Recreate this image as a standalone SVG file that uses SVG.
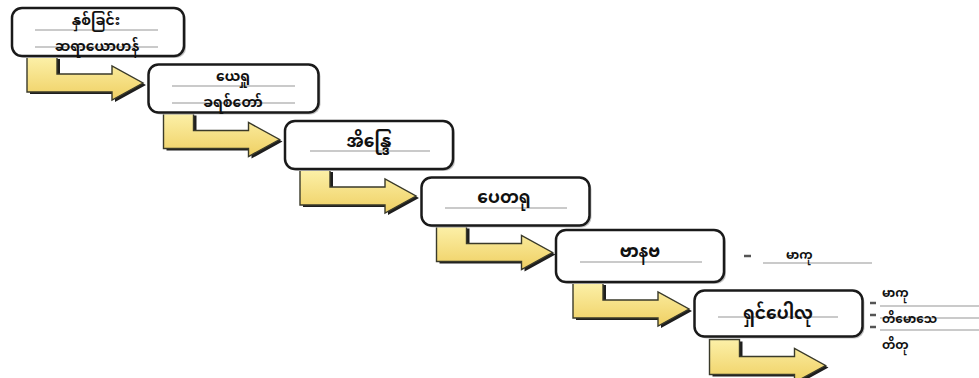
<svg xmlns="http://www.w3.org/2000/svg" width="979" height="378" viewBox="0 0 979 378">
<style>
.box{fill:#fff;stroke:#1a1a1a;stroke-width:2.5}
.bshadow{fill:#c4c4c4}
.arr{fill:url(#yg);stroke:#3a3a2a;stroke-width:1.4;stroke-linejoin:miter}
.ashadow{fill:#1e1e1e}
.rule{stroke:#b8b8b8;stroke-width:1.3}
.t{font-family:"Noto Sans Myanmar","Padauk","Myanmar Text","Noto Sans",sans-serif;font-weight:bold;fill:#111;text-anchor:middle}
.big{font-size:17px}
.two{font-size:14px}
.small{font-size:12px;text-anchor:start}
.dash{stroke:#555;stroke-width:2.5}
</style>
<defs>
<linearGradient id="yg" x1="0" y1="0" x2="0" y2="1">
<stop offset="0" stop-color="#fcf0a8"/>
<stop offset="1" stop-color="#efd063"/>
</linearGradient>
<path id="arrow" d="M15,49 H45 V66 H100 V58 L131,75 L100,92 V84 H15 Z"/>
</defs>
<g id="connectors">
<g transform="translate(12,8)"><use href="#arrow" class="ashadow" transform="translate(3,2)"/><use href="#arrow" class="arr"/></g>
<g transform="translate(148.5,64.5)"><use href="#arrow" class="ashadow" transform="translate(3,2)"/><use href="#arrow" class="arr"/></g>
<g transform="translate(285,121)"><use href="#arrow" class="ashadow" transform="translate(3,2)"/><use href="#arrow" class="arr"/></g>
<g transform="translate(421.5,177.5)"><use href="#arrow" class="ashadow" transform="translate(3,2)"/><use href="#arrow" class="arr"/></g>
<g transform="translate(558,234)"><use href="#arrow" class="ashadow" transform="translate(3,2)"/><use href="#arrow" class="arr"/></g>
<g transform="translate(694.5,290.5)"><use href="#arrow" class="ashadow" transform="translate(3,2)"/><use href="#arrow" class="arr"/></g>
</g>
<g id="node1">
<rect class="bshadow" x="14" y="10" width="172" height="48" rx="10"/>
<rect class="box" x="12" y="8" width="172" height="48" rx="10"/>
<line class="rule" x1="35" y1="30" x2="158" y2="30"/>
<line class="rule" x1="35" y1="47" x2="158" y2="47"/>
<text class="t two"><tspan x="96" y="25">နှစ်ခြင်း</tspan><tspan x="97" y="51">ဆရာယောဟန်</tspan></text>
</g>
<g id="node2">
<rect class="bshadow" x="150.5" y="66.5" width="170" height="48" rx="10"/>
<rect class="box" x="148.5" y="64.5" width="170" height="48" rx="10"/>
<line class="rule" x1="172" y1="86" x2="295" y2="86"/>
<line class="rule" x1="172" y1="103" x2="295" y2="103"/>
<text class="t two"><tspan x="233" y="81">ယေရှု</tspan><tspan x="233" y="107">ခရစ်တော်</tspan></text>
</g>
<g id="node3">
<rect class="bshadow" x="287" y="123" width="168" height="48" rx="10"/>
<rect class="box" x="285" y="121" width="168" height="48" rx="10"/>
<line class="rule" x1="310" y1="151" x2="430" y2="151"/>
<text class="t big" x="369" y="147">အိန္ဒြေ</text>
</g>
<g id="node4">
<rect class="bshadow" x="423.5" y="179.5" width="168" height="48" rx="10"/>
<rect class="box" x="421.5" y="177.5" width="168" height="48" rx="10"/>
<line class="rule" x1="445" y1="208" x2="567" y2="208"/>
<text class="t big" x="504" y="203">ပေတရု</text>
</g>
<g id="node5">
<rect class="bshadow" x="558" y="232" width="168" height="52" rx="10"/>
<rect class="box" x="556" y="230" width="168" height="52" rx="10"/>
<line class="rule" x1="580" y1="262" x2="702" y2="262"/>
<text class="t big" x="640" y="257">ဗာနဗ</text>
<line class="dash" x1="744" y1="256" x2="751" y2="256"/>
<line class="rule" x1="763" y1="263" x2="872" y2="263"/>
<text class="t small" x="786" y="259">မာကု</text>
</g>
<g id="node6">
<rect class="bshadow" x="696.5" y="292.5" width="168" height="46" rx="10"/>
<rect class="box" x="694.5" y="290.5" width="168" height="46" rx="10"/>
<line class="rule" x1="718" y1="317" x2="838" y2="317"/>
<text class="t big" x="778" y="319">ရှင်ပေါလု</text>
<line class="dash" x1="870" y1="303" x2="876" y2="303"/>
<line class="dash" x1="870" y1="315" x2="876" y2="315"/>
<line class="dash" x1="870" y1="327" x2="876" y2="327"/>
<line class="rule" x1="880" y1="306" x2="979" y2="306"/>
<line class="rule" x1="880" y1="318" x2="979" y2="318"/>
<line class="rule" x1="880" y1="330" x2="979" y2="330"/>
<text class="t small" x="882" y="297">မာကု</text>
<text class="t small" x="882" y="323">တိမောသေ</text>
<text class="t small" x="882" y="349">တိတု</text>
</g>
</svg>
